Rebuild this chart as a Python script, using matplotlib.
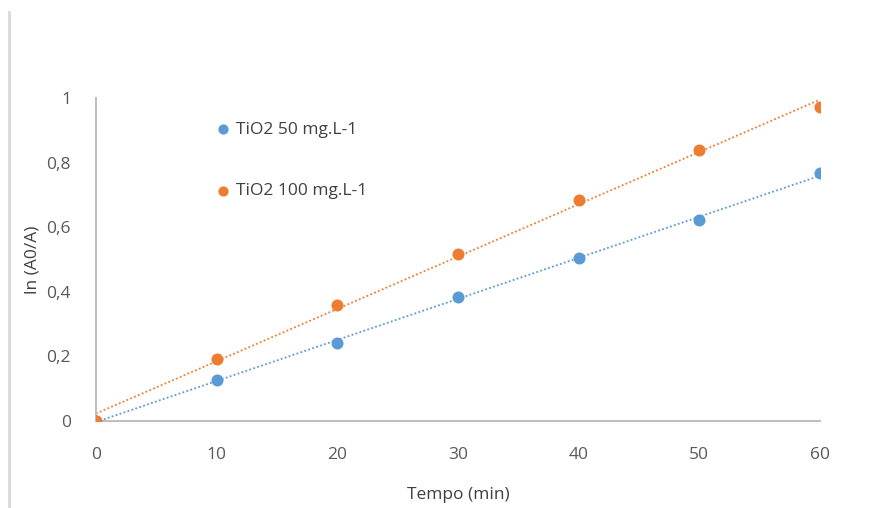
import matplotlib.pyplot as plt
import numpy as np
from matplotlib.lines import Line2D

# data
tempo = [0, 10, 20, 30, 40, 50, 60]
tio2_50 = [0.0, 0.127, 0.241, 0.384, 0.505, 0.622, 0.768]
tio2_100 = [0.0, 0.192, 0.359, 0.517, 0.684, 0.839, 0.972]
labels = ["TiO2 50 mg.L-1", "TiO2 100 mg.L-1"]
colors = ["#5B9BD5", "#ED7D31"]

plt.rcParams['font.family'] = ['Open Sans', 'DejaVu Sans']

fig = plt.figure(figsize=(8.75, 5.08), dpi=100)
ax = fig.add_axes([96 / 875, 87 / 508, 724 / 875, 323 / 508])

x = np.array(tempo)
for y, c, lab in zip([tio2_50, tio2_100], colors, labels):
    y = np.array(y)
    ax.scatter(x, y, s=75, color=c, label=lab, zorder=3, linewidths=0)
    # linear trendline like Excel
    k, b = np.polyfit(x, y, 1)
    xx = np.array([0, 60])
    ax.plot(xx, k * xx + b, linestyle=(0, (1, 1.3)), color=c, lw=1.3, zorder=2)

ax.set_xlim(0, 60)
ax.set_ylim(0, 1)
ax.set_xticks([0, 10, 20, 30, 40, 50, 60])
ax.set_yticks([0, 0.2, 0.4, 0.6, 0.8, 1])
ax.set_yticklabels(["0", "0,2", "0,4", "0,6", "0,8", "1"])
ax.tick_params(length=0, labelsize=12.5, labelcolor="#595959")
ax.tick_params(axis='x', pad=19)
ax.tick_params(axis='y', pad=18)
for s in ['top', 'right']:
    ax.spines[s].set_visible(False)
for s in ['left', 'bottom']:
    ax.spines[s].set_color("#BFBFBF")
    ax.spines[s].set_linewidth(1.5)
ax.set_clip_on(False)

ax.set_xlabel("Tempo (min)", fontsize=12.5, color="#404040", labelpad=17)
ax.set_ylabel("ln (A0/A)", fontsize=12.5, color="#404040")
ax.yaxis.set_label_coords((40 - 96) / 724, 0.5)

leg = ax.legend(loc='upper left', bbox_to_anchor=(206 / 875, 1 - 113 / 508),
                bbox_transform=fig.transFigure, frameon=False, fontsize=12.5,
                handletextpad=0.2, labelspacing=2.6, markerscale=0.85,
                handlelength=1.0, borderpad=0)
for t in leg.get_texts():
    t.set_color("#404040")

fig.add_artist(Line2D([9 / 875, 9 / 875], [0, 1 - 12 / 508],
                      transform=fig.transFigure, color="#D9D9D9", lw=2))

fig.savefig("out.png", dpi=100)
